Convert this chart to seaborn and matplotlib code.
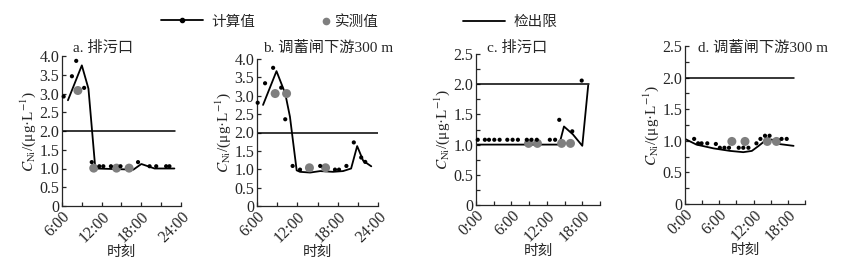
import seaborn as sns
import matplotlib.pyplot as plt
import numpy as np
from matplotlib.lines import Line2D
from matplotlib.ticker import FixedLocator, MultipleLocator, FuncFormatter

sns.set_style("ticks")
plt.rcParams['font.family'] = ['Liberation Serif', 'Noto Sans CJK SC', 'DejaVu Sans']
plt.rcParams['mathtext.fontset'] = 'stix'

# panel a: 排污口 (6:00-24:00)
a_line_t = [6.9, 9.0, 10.0, 11.0, 11.2, 16.8, 18.0, 20.0, 23.0]
a_line_v = [2.82, 3.75, 3.13, 1.08, 1.0, 0.97, 1.12, 1.0, 1.0]
a_calc_t = [6.25, 7.5, 8.15, 9.35, 10.5, 11.65, 12.25, 13.4, 14.85, 17.5, 19.25, 20.25, 21.75, 22.25]
a_calc_v = [2.92, 3.46, 3.87, 3.15, 1.17, 1.06, 1.06, 1.06, 1.06, 1.17, 1.06, 1.06, 1.06, 1.06]
a_meas_t = [8.4, 10.8, 14.25, 16.15]
a_meas_v = [3.08, 1.01, 1.01, 1.01]
a_limit_t = [6.0, 23.1]

# panel b: 调蓄闸下游300 m (6:00-24:00)
b_line_t = [6.9, 8.9, 10.2, 10.9, 11.9, 12.4, 13.9, 15.4, 17.3, 18.8, 20.0, 20.9, 21.8, 23.0]
b_line_v = [2.75, 3.67, 3.06, 2.43, 0.97, 0.93, 0.91, 0.95, 0.93, 0.95, 1.02, 1.63, 1.23, 1.08]
b_calc_t = [6.1, 7.2, 8.4, 9.6, 10.2, 11.3, 12.4, 15.4, 17.6, 18.2, 19.3, 20.4, 21.5, 22.1]
b_calc_v = [2.81, 3.34, 3.76, 3.22, 2.36, 1.09, 0.99, 1.09, 0.99, 0.99, 1.09, 1.73, 1.32, 1.2]
b_meas_t = [8.7, 10.4, 13.8, 16.2]
b_meas_v = [3.06, 3.06, 1.04, 1.04]
b_limit_t = [6.0, 24.0]

# panel c: 排污口 (0:00-21:00)
c_line_t = [0.0, 14.1, 14.9, 16.4, 18.0, 19.0]
c_line_v = [1.0, 1.0, 1.30, 1.17, 0.98, 1.98]
c_calc_t = [0.3, 1.5, 2.2, 3.1, 4.0, 5.3, 6.2, 7.1, 8.6, 9.4, 10.3, 12.5, 13.4, 14.1, 16.3, 17.9]
c_calc_v = [1.08, 1.08, 1.08, 1.08, 1.08, 1.08, 1.08, 1.08, 1.08, 1.08, 1.08, 1.08, 1.08, 1.41, 1.22, 2.06]
c_meas_t = [8.9, 10.4, 14.5, 16.0]
c_meas_v = [1.02, 1.02, 1.02, 1.02]
c_limit_t = [0.0, 19.1]

# panel d: 调蓄闸下游300 m (0:00-21:00)
d_line_t = [0.0, 2.0, 5.0, 7.9, 10.2, 11.7, 12.9, 14.0, 15.2, 16.4, 19.0]
d_line_v = [1.03, 0.94, 0.88, 0.84, 0.82, 0.84, 0.92, 1.0, 1.02, 0.95, 0.92]
d_calc_t = [1.6, 2.3, 2.9, 3.9, 5.4, 6.1, 6.9, 7.7, 9.4, 10.2, 11.1, 12.5, 13.2, 14.0, 14.8, 16.9, 17.8]
d_calc_v = [1.03, 0.96, 0.96, 0.96, 0.95, 0.89, 0.89, 0.89, 0.89, 0.89, 0.89, 0.96, 1.03, 1.08, 1.08, 1.03, 1.03]
d_meas_t = [8.2, 10.5, 14.4, 16.0]
d_meas_v = [0.99, 0.99, 0.99, 0.99]
d_limit_t = [0.0, 19.1]

limit_value = 2.0
titles = ["a. 排污口", "b. 调蓄闸下游300 m", "c. 排污口", "d. 调蓄闸下游300 m"]

panels = [
    (a_line_t, a_line_v, a_calc_t, a_calc_v, a_meas_t, a_meas_v, a_limit_t),
    (b_line_t, b_line_v, b_calc_t, b_calc_v, b_meas_t, b_meas_v, b_limit_t),
    (c_line_t, c_line_v, c_calc_t, c_calc_v, c_meas_t, c_meas_v, c_limit_t),
    (d_line_t, d_line_v, d_calc_t, d_calc_v, d_meas_t, d_meas_v, d_limit_t),
]

W, H = 851, 268
fig = plt.figure(figsize=(W / 100, H / 100), dpi=100)

# pixel boxes: left, right, top, bottom
boxes = [(62, 181, 56, 206), (257, 378, 59, 206), (476, 600, 54, 205), (685, 805, 46, 204)]
xranges = [(6, 24), (6, 24), (0, 21), (0, 21)]
ymax = [4.0, 4.0, 2.5, 2.5]
title_pos = [(103, 48), (328, 48), (517, 48), (763, 48)]

gray = "#7f7f7f"

def hfmt(v, pos):
    return "%d:00" % int(round(v))

def yfmt(v, pos):
    return "0" if abs(v) < 1e-9 else "%.1f" % v

for i, (lt, lv, ct, cv, mt, mv, lim) in enumerate(panels):
    l, r, t, b = boxes[i]
    ax = fig.add_axes([l / W, (H - b) / H, (r - l) / W, (b - t) / H])
    sns.lineplot(x=lt, y=lv, ax=ax, color="black", linewidth=1.3, sort=False)
    sns.lineplot(x=lim, y=[limit_value, limit_value], ax=ax, color="black", linewidth=1.1)
    sns.scatterplot(x=mt, y=mv, ax=ax, color=gray, s=42, edgecolor="none", clip_on=False, zorder=3)
    sns.scatterplot(x=ct, y=cv, ax=ax, color="black", s=9, edgecolor="none", clip_on=False, zorder=4)

    x0, x1 = xranges[i]
    ax.set_xlim(x0, x1)
    ax.set_ylim(0, ymax[i])
    ax.xaxis.set_major_locator(FixedLocator(np.arange(x0, x1 + 0.1, 6)))
    ax.xaxis.set_minor_locator(MultipleLocator(3))
    ax.xaxis.set_major_formatter(FuncFormatter(hfmt))
    ax.yaxis.set_major_locator(MultipleLocator(0.5))
    if ymax[i] < 3:
        ax.yaxis.set_minor_locator(MultipleLocator(0.25))
    ax.yaxis.set_major_formatter(FuncFormatter(yfmt))
    ax.tick_params(which="both", direction="in", length=3, width=0.9, labelsize=11.5, pad=2)
    for lab in ax.get_xticklabels():
        lab.set_rotation(45)
        lab.set_ha("right")
        lab.set_rotation_mode("anchor")
    sns.despine(ax=ax)
    for s in ["left", "bottom"]:
        ax.spines[s].set_linewidth(0.9)
    ax.set_xlabel("时刻", fontsize=10.5, labelpad=0)
    ax.set_ylabel(r"$C_{\mathrm{Ni}}$/(μg·L$^{-1}$)", fontsize=11, labelpad=1)
    tx, ty = title_pos[i]
    fig.text(tx / W, (H - ty) / H, titles[i], fontsize=11, ha="center", va="center")

# legend
h_calc = Line2D([], [], color="black", linewidth=1.3, marker="o", markersize=3)
h_meas = Line2D([], [], color=gray, linestyle="none", marker="o", markersize=4.5)
h_lim = Line2D([], [], color="black", linewidth=1.3)
fig.legend([h_calc], ["计算值"], loc="center", bbox_to_anchor=(208 / W, (H - 22) / H),
           frameon=False, fontsize=10.5, handlelength=2.9, handletextpad=0.6)
fig.legend([h_meas], ["实测值"], loc="center", bbox_to_anchor=(350 / W, (H - 22) / H),
           frameon=False, fontsize=10.5, handlelength=0.6, handletextpad=0.3)
fig.legend([h_lim], ["检出限"], loc="center", bbox_to_anchor=(510 / W, (H - 22) / H),
           frameon=False, fontsize=10.5, handlelength=2.9, handletextpad=0.6)

fig.savefig("out.png", dpi=100)
